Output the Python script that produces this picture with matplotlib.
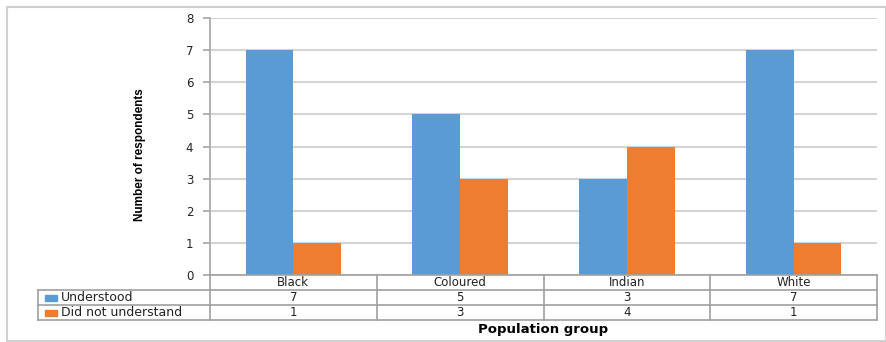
import matplotlib
matplotlib.use("Agg")
import matplotlib.pyplot as plt
from matplotlib.patches import Rectangle
from matplotlib.lines import Line2D
from matplotlib.transforms import blended_transform_factory
import numpy as np

categories = ["Black", "Coloured", "Indian", "White"]
understood = [7, 5, 3, 7]
not_understood = [1, 3, 4, 1]
series_names = ["Understood", "Did not understand"]
colors = ["#5b9bd5", "#ed7d31"]

W, H = 886, 342
fig = plt.figure(figsize=(W / 100, H / 100), dpi=100)

def fx(px):
    return px / W

def fy(py):
    return 1 - py / H

# outer chart frame
fig.add_artist(Rectangle((fx(7), fy(341)), fx(879), fy(7) - fy(341),
                         transform=fig.transFigure, fill=False,
                         edgecolor="#d0d0d0", lw=1.5))

ax_l, ax_r, ax_t, ax_b = 210, 877, 18, 275
ax = fig.add_axes([fx(ax_l), fy(ax_b), fx(ax_r - ax_l), fy(ax_t) - fy(ax_b)])

n = len(categories)
x = np.arange(n)
bw = 1 / 3.5
ax.bar(x - bw / 2, understood, width=bw, color=colors[0], zorder=3)
ax.bar(x + bw / 2, not_understood, width=bw, color=colors[1], zorder=3)

ax.set_xlim(-0.5, n - 0.5)
ax.set_ylim(0, 8)
ax.set_yticks(range(0, 9))
ax.yaxis.grid(True, color="#d4d4d4", lw=1.5, zorder=0)
ax.set_xticks([])
for s in ["top", "right", "bottom"]:
    ax.spines[s].set_visible(False)
ax.spines["left"].set_color("#a6a6a6")
ax.spines["left"].set_linewidth(1.2)
ax.tick_params(axis="y", length=5, width=1.2, color="#a6a6a6",
               labelsize=8.5, pad=7, labelcolor="#222222")
ax.set_ylabel("Number of respondents", fontsize=8.5, fontweight="bold",
              family="Liberation Sans")
ax.yaxis.set_label_coords(-0.096, 0.467)

# data table below the plot
tr = blended_transform_factory(ax.transData, fig.transFigure)
grid_c = "#a0a0a0"
row_y = [275, 290, 305, 320]
table_left = 38

def hline(x0, x1, py):
    fig.add_artist(Line2D([fx(x0), fx(x1)], [fy(py), fy(py)],
                          transform=fig.transFigure, color=grid_c, lw=1.2))

hline(ax_l, ax_r, row_y[0])
for py in row_y[1:]:
    hline(table_left, ax_r, py)
fig.add_artist(Line2D([fx(table_left)] * 2, [fy(row_y[1]), fy(row_y[3])],
                      transform=fig.transFigure, color=grid_c, lw=1.2))
for i in range(n + 1):
    xb = i - 0.5
    fig.add_artist(Line2D([xb, xb], [fy(row_y[0]), fy(row_y[3])],
                          transform=tr, color=grid_c, lw=1.2))

txt_kw = dict(fontsize=8.5, color="#222222", va="center", ha="center")
for i, cat in enumerate(categories):
    fig.text(i, fy((row_y[0] + row_y[1]) / 2), cat, transform=tr, **txt_kw)
    fig.text(i, fy((row_y[1] + row_y[2]) / 2), str(understood[i]),
             transform=tr, **txt_kw)
    fig.text(i, fy((row_y[2] + row_y[3]) / 2), str(not_understood[i]),
             transform=tr, **txt_kw)

for k, name in enumerate(series_names):
    yc = (row_y[k + 1] + row_y[k + 2]) / 2
    fig.add_artist(Rectangle((fx(45), fy(yc + 3)), fx(12), fy(yc - 3) - fy(yc + 3),
                             transform=fig.transFigure, color=colors[k]))
    fig.text(fx(61), fy(yc), name, fontsize=9, color="#222222",
             va="center", ha="left")

fig.text(fx((ax_l + ax_r) / 2), fy(329.5), "Population group", fontsize=9.5,
         fontweight="bold", ha="center", va="center")

fig.savefig("out.png", dpi=100)
